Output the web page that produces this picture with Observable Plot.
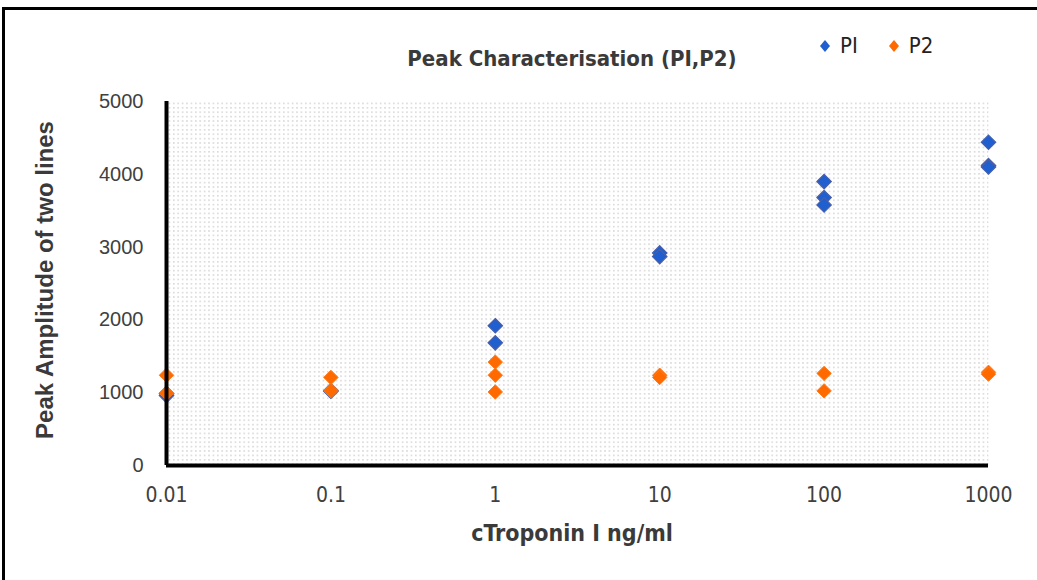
<!DOCTYPE html>
<html>
<head>
<meta charset="utf-8">
<script src="https://cdn.jsdelivr.net/npm/d3@7"></script>
<script src="https://cdn.jsdelivr.net/npm/@observablehq/plot@0.6"></script>
<style>
  html, body { margin: 0; padding: 0; background: #fff; }
  #wrap { position: relative; width: 1037px; height: 580px; overflow: hidden; background: #fff; }
  #border { position: absolute; left: 2px; top: 7px; width: 1200px; height: 700px;
            border-top: 3px solid #000; border-left: 3px solid #000; box-sizing: border-box; pointer-events: none; }
  #chart { position: absolute; left: 0; top: 0; }
  .narrow { font-family: "Liberation Sans Narrow", "DejaVu Sans Condensed", "Arial Narrow", sans-serif; }
  #title { position: absolute; left: 572px; top: 46px; transform: translateX(-50%); font-size: 22px; font-weight: bold; color: #3a3a3a; white-space: nowrap; }
  #xlabel { position: absolute; left: 572px; top: 520px; transform: translateX(-50%); font-size: 23px; font-weight: bold; color: #3a3a3a; white-space: nowrap; }
  #ylabel { position: absolute; left: 45px; top: 280px; transform: translate(-50%, -50%) rotate(-90deg); font-family: "Liberation Sans", Arial, sans-serif; font-size: 24px; font-weight: bold; color: #3a3a3a; white-space: nowrap; }
  #legend { position: absolute; left: 819px; top: 33px; font-size: 22px; color: #222; white-space: nowrap; display: flex; align-items: center; }
  #legend .item { display: flex; align-items: center; margin-right: 30px; }
  #legend svg { margin-right: 9px; }
  g[aria-label="y-axis tick label"] text { font-family: "Liberation Sans", Arial, sans-serif; font-size: 20px; fill: #404040; }
  g[aria-label="x-axis tick label"] text { font-family: "Liberation Sans Narrow", "DejaVu Sans Condensed", sans-serif; font-size: 21px; fill: #404040; }
</style>
</head>
<body>
<div id="wrap">
  <div id="chart"></div>
  <div id="border"></div>
  <div id="title" class="narrow">Peak Characterisation (PI,P2)</div>
  <div id="legend" class="narrow"></div>
  <div id="xlabel" class="narrow">cTroponin I ng/ml</div>
  <div id="ylabel">Peak Amplitude of two lines</div>
</div>
<script>
// ---- data ----
const concentrations = [0.01, 0.1, 1, 10, 100, 1000];
const concLabels = ["0.01", "0.1", "1", "10", "100", "1000"];
const p1Values = [[960, 990], [1020, 1030], [1920, 1685], [2920, 2870], [3900, 3680, 3580], [4440, 4120, 4100]];
const p2Values = [[1240, 995], [1210, 1030], [1420, 1240, 1010], [1240, 1210], [1265, 1025], [1280, 1255]];
const yTicks = [0, 1000, 2000, 3000, 4000, 5000];
const seriesNames = ["PI", "P2"];
const seriesColors = ["#1f5fcf", "#ff6a00"];
const seriesStrokes = ["#4a5fa8", "#ff7a1a"];

const rows = [];
[p1Values, p2Values].forEach((vals, s) => {
  vals.forEach((arr, i) => arr.forEach(v => rows.push({series: seriesNames[s], x: concentrations[i], y: v})));
});
const p1Rows = rows.filter(d => d.series === "PI");
const p2Rows = rows.filter(d => d.series === "P2");

const defsMark = () => {
  const g = d3.create("svg:defs");
  const p = g.append("pattern").attr("id", "dots").attr("patternUnits", "userSpaceOnUse")
    .attr("width", 4.4).attr("height", 4.4);
  p.append("rect").attr("width", 4.4).attr("height", 4.4).attr("fill", "#ffffff");
  p.append("rect").attr("x", 1).attr("y", 1).attr("width", 1.4).attr("height", 1.4).attr("fill", "#cdcdcd");
  return g.node();
};

const plot = Plot.plot({
  width: 1037,
  height: 580,
  marginLeft: 166,
  marginRight: 49,
  marginTop: 101,
  marginBottom: 115,
  style: {background: "transparent"},
  x: {type: "log", domain: [0.01, 1000], label: null},
  y: {domain: [0, 5000], label: null},
  marks: [
    defsMark,
    Plot.frame({fill: "url(#dots)", stroke: "none"}),
    Plot.axisX({ticks: concentrations, tickFormat: d => concLabels[concentrations.indexOf(d)], tickSize: 0, tickPadding: 22, label: null}),
    Plot.axisY({ticks: yTicks, tickFormat: d => String(d), tickSize: 0, tickPadding: 23, label: null}),
    Plot.dot(p1Rows, {x: "x", y: "y", symbol: "diamond2", r: 6.5, fill: seriesColors[0], stroke: seriesStrokes[0], strokeWidth: 1.2}),
    Plot.dot(p2Rows, {x: "x", y: "y", symbol: "diamond2", r: 6.5, fill: seriesColors[1], stroke: seriesStrokes[1], strokeWidth: 1}),
    Plot.ruleY([0], {stroke: "#000", strokeWidth: 4}),
    Plot.ruleX([0.01], {y1: 0, y2: 5000, stroke: "#000", strokeWidth: 4})
  ]
});
document.getElementById("chart").appendChild(plot);

// legend
const legend = d3.select("#legend");
seriesNames.forEach((name, i) => {
  const item = legend.append("div").attr("class", "item");
  const s = item.append("svg").attr("width", 12).attr("height", 14);
  s.append("path").attr("d", "M6,1L11,7L6,13L1,7Z").attr("fill", seriesColors[i]);
  item.append("span").text(name);
});
</script>
</body>
</html>
